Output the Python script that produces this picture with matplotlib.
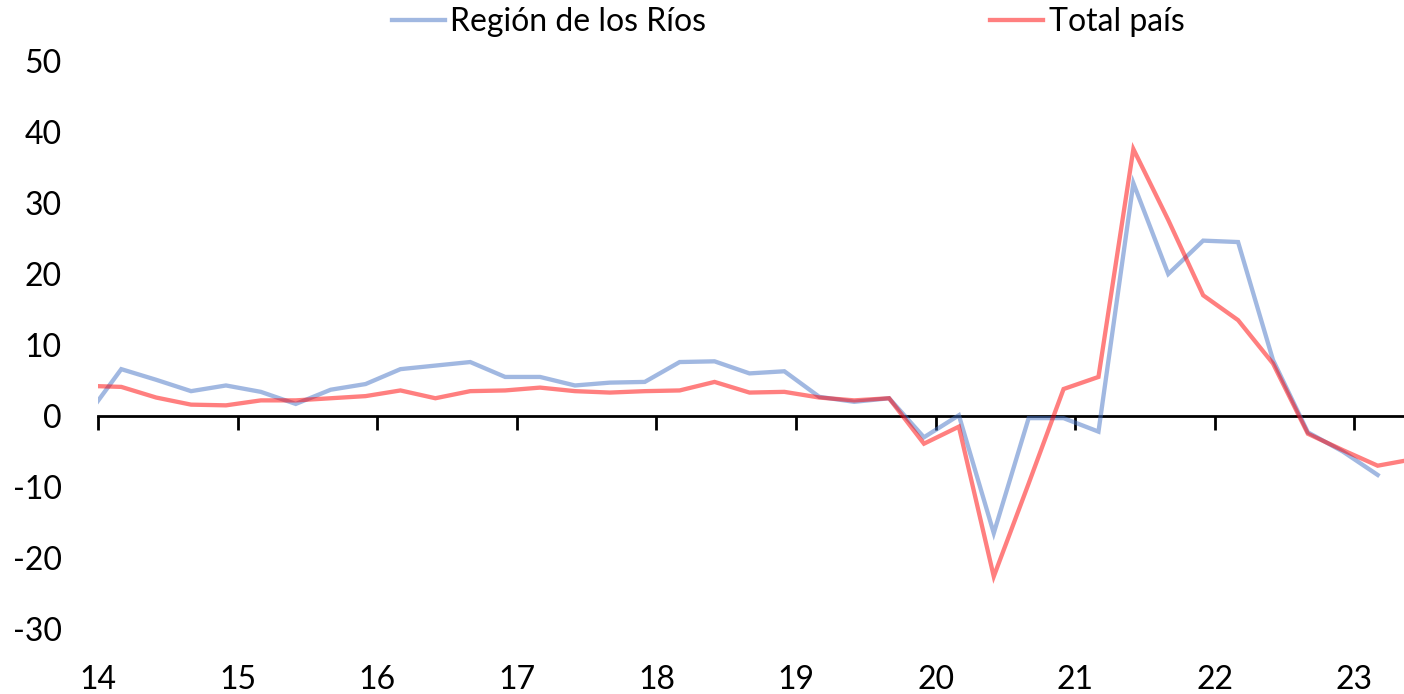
import matplotlib

matplotlib.use("Agg")
import matplotlib.pyplot as plt
import numpy as np
import pandas as pd

# quarterly observations (last month of each quarter), Dec 2013 .. Jun 2023
dates = pd.date_range("2013-12-01", periods=39, freq="3MS")

los_rios = [
    -0.1, 6.6, 5.1, 3.5, 4.3, 3.4, 1.7, 3.7, 4.5, 6.6, 7.1, 7.6, 5.5,
    5.5, 4.3, 4.7, 4.8, 7.6, 7.7, 6.0, 6.3, 2.7, 2.0, 2.5, -3.0, 0.1,
    -16.5, -0.3, -0.3, -2.2, 32.8, 20.0, 24.7, 24.5, 7.9, -2.3, -5.0, -8.3,
]
total_pais = [
    4.25, 4.1, 2.6, 1.6, 1.5, 2.2, 2.2, 2.5, 2.8, 3.6, 2.5, 3.5, 3.6,
    4.0, 3.5, 3.3, 3.5, 3.6, 4.8, 3.3, 3.4, 2.6, 2.2, 2.5, -3.9, -1.5,
    -22.6, -9.5, 3.8, 5.5, 37.6, 27.6, 17.0, 13.5, 7.4, -2.5, -4.8, -7.0, -6.1,
]
year_ticks = list(range(2014, 2024))
year_labels = [str(y)[2:] for y in year_ticks]
y_ticks = list(range(-30, 51, 10))

BLUE = "#4472C4"
RED = "#FF0000"
FONT = "Lato"
FS = 23


def dec_year(d):
    return d.year + (d.month - 1) / 12


x_all = np.array([dec_year(d) for d in dates])

plt.rcParams["font.family"] = [FONT, "DejaVu Sans"]
plt.rcParams["axes.unicode_minus"] = False

fig = plt.figure(figsize=(14.04, 6.94), dpi=100)
ax = fig.add_axes([98 / 1404, 1 - 664.5 / 694, 1 - 98 / 1404, (664.5 - 61) / 694])

ax.plot(x_all[: len(los_rios)], los_rios, color=BLUE, alpha=0.5, lw=3.1,
        solid_joinstyle="miter", label="Región de los Ríos")
ax.plot(x_all[: len(total_pais)], total_pais, color=RED, alpha=0.5, lw=3.1,
        solid_joinstyle="miter", label="Total país")

ax.set_xlim(2014.0, 2014.0 + (1404 - 98) / 139.6)
ax.set_ylim(-35, 50)

for s in ("top", "right", "left"):
    ax.spines[s].set_visible(False)
ax.spines["bottom"].set_position(("data", 0))
ax.spines["bottom"].set_linewidth(2.0)
ax.spines["bottom"].set_zorder(1)

ax.set_xticks(year_ticks)
ax.tick_params(axis="x", direction="out", length=10, width=2.0, labelbottom=False)
for xt, lab in zip(year_ticks, year_labels):
    ax.text(xt, (664.5 - 689) / 603.5, lab, transform=ax.get_xaxis_transform(),
            ha="center", va="baseline", fontsize=FS, color="black")

ax.set_yticks(y_ticks)
ax.set_yticklabels([str(v) for v in y_ticks])
ax.tick_params(axis="y", length=0, pad=26, labelsize=FS)

handles, labels = ax.get_legend_handles_labels()
fig.legend(handles, labels, loc="center left", bbox_to_anchor=(392 / 1404, 1 - 22 / 694),
           ncol=2, frameon=False, fontsize=FS, borderpad=0, borderaxespad=0,
           handlelength=1.66, handletextpad=0.16, columnspacing=8.9)

fig.savefig("out.png", dpi=100)
